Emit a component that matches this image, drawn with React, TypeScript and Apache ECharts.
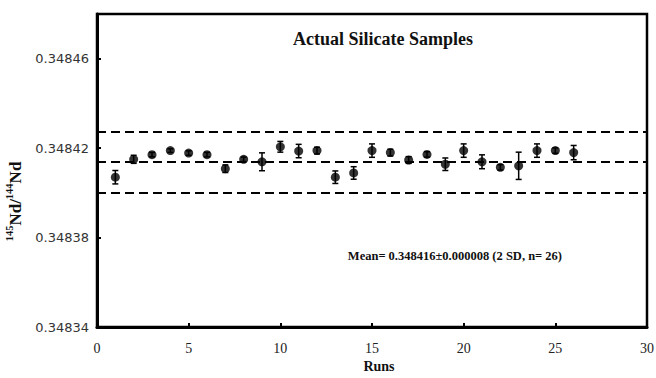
import React, { useEffect, useRef } from "react";
import * as echarts from "echarts";

// ---- data ----
const runs = [1, 2, 3, 4, 5, 6, 7, 8, 9, 10, 11, 12, 13, 14, 15, 16, 17, 18, 19, 20, 21, 22, 23, 24, 25, 26];
const ratios = [
  0.348407, 0.348415, 0.3484171, 0.3484189, 0.3484178, 0.3484171, 0.3484108, 0.348415,
  0.3484139, 0.3484206, 0.3484187, 0.3484189, 0.348407, 0.3484089, 0.3484189, 0.348418,
  0.3484147, 0.3484172, 0.3484128, 0.3484189, 0.3484139, 0.3484114, 0.3484121, 0.3484189,
  0.3484189, 0.348418,
];
const errors = [
  0.0000030, 0.0000018, 0.0000010, 0.0000008, 0.0000010, 0.0000010, 0.0000017, 0.0000010,
  0.0000040, 0.0000024, 0.0000030, 0.0000015, 0.0000028, 0.0000028, 0.0000030, 0.0000015,
  0.0000015, 0.0000012, 0.0000028, 0.0000030, 0.0000031, 0.0000012, 0.0000061, 0.0000030,
  0.0000012, 0.0000032,
];
const refLines = [0.3484272, 0.3484138, 0.3484];
const xTicks = { min: 0, max: 30, interval: 5 };
const yRange = { min: 0.34834, max: 0.34848, step: 0.00004 };
const titleText = "Actual Silicate Samples";
const meanText = "Mean= 0.348416\u00b10.000008 (2 SD, n= 26)";

// values are plotted as offsets from the axis minimum (in units of 1e-5)
const SCALE = 1e5;
const toAxis = (v: number) => (v - yRange.min) * SCALE;

export default function App() {
  const ref = useRef<HTMLDivElement>(null);
  useEffect(() => {
    if (!ref.current) return;
    const chart = echarts.init(ref.current, null, { renderer: "svg" });
    const serif = "'Liberation Serif', 'Times New Roman', serif";
    const points = runs.map((r, i) => [r, toAxis(ratios[i])]);
    const bars = runs.map((r, i) => [r, toAxis(ratios[i] - errors[i]), toAxis(ratios[i] + errors[i])]);
    chart.setOption({
      animation: false,
      backgroundColor: "#fff",
      grid: {
        left: 97, right: 9, top: 14, bottom: 51,
        outerBoundsMode: "none",
        containLabel: false,
        show: true, borderColor: "#000", borderWidth: 2.5, backgroundColor: "transparent",
      },
      xAxis: {
        type: "value",
        min: xTicks.min, max: xTicks.max, interval: xTicks.interval,
        name: "Runs", nameLocation: "middle", nameGap: 28,
        nameTextStyle: { fontFamily: serif, fontWeight: "bold", fontSize: 14, color: "#111", padding: [0, 0, 0, 14] },
        axisLine: { lineStyle: { color: "#000", width: 3 } },
        axisTick: { inside: true, length: 4, lineStyle: { color: "#000", width: 2 } },
        axisLabel: { fontFamily: serif, fontSize: 14, color: "#222", margin: 14 },
        splitLine: { show: false },
      },
      yAxis: {
        type: "value",
        min: 0, max: toAxis(yRange.max), interval: yRange.step * SCALE,
        name: "{sup|145}{b|Nd/}{sup|144}{b|Nd}",
        nameLocation: "middle", nameRotate: 90, nameGap: 67,
        nameTextStyle: {
          padding: [0, 62, 0, 0],
          rich: {
            b: { fontFamily: serif, fontWeight: "bold", fontSize: 17, color: "#111", lineHeight: 20, verticalAlign: "bottom" },
            sup: { fontFamily: serif, fontWeight: "bold", fontSize: 10.5, color: "#111", lineHeight: 20, verticalAlign: "top" },
          },
        },
        axisLine: { lineStyle: { color: "#000", width: 3 } },
        axisTick: { inside: true, length: 4, lineStyle: { color: "#000", width: 2 } },
        axisLabel: {
          fontFamily: "'DejaVu Sans', Verdana, sans-serif", fontSize: 13, color: "#333", margin: 8,
          showMaxLabel: false,
          formatter: (v: number) => (yRange.min + v / SCALE).toFixed(5),
        },
        splitLine: { show: false },
      },
      graphic: [
        { type: "text", x: 383, y: 39, style: { text: titleText, font: `bold 18px ${serif}`, fill: "#111", align: "center", verticalAlign: "middle" } },
        { type: "text", x: 562, y: 256, style: { text: meanText, font: `bold 12.5px ${serif}`, fill: "#111", align: "right", verticalAlign: "middle" } },
      ],
      series: [
        {
          type: "custom",
          data: bars,
          z: 3,
          renderItem: (params: any, api: any) => {
            const x = api.value(0);
            const lo = api.coord([x, api.value(1)]);
            const hi = api.coord([x, api.value(2)]);
            const cap = 3;
            const style = { stroke: "#000", lineWidth: 1.5 };
            return {
              type: "group",
              children: [
                { type: "line", shape: { x1: lo[0], y1: lo[1], x2: hi[0], y2: hi[1] }, style },
                { type: "line", shape: { x1: lo[0] - cap, y1: lo[1], x2: lo[0] + cap, y2: lo[1] }, style },
                { type: "line", shape: { x1: hi[0] - cap, y1: hi[1], x2: hi[0] + cap, y2: hi[1] }, style },
              ],
            };
          },
        },
        {
          type: "scatter",
          data: points,
          symbol: "circle",
          symbolSize: 9,
          z: 4,
          itemStyle: { color: "#000" },
          markLine: {
            silent: true,
            symbol: "none",
            label: { show: false },
            lineStyle: { color: "#000", width: 2, type: [9, 5] },
            data: refLines.map((v) => ({ yAxis: toAxis(v) })),
          },
        },
      ],
    });
    return () => chart.dispose();
  }, []);
  return <div ref={ref} style={{ position: "absolute", left: 0, top: 0, width: 656, height: 378 }} />;
}
